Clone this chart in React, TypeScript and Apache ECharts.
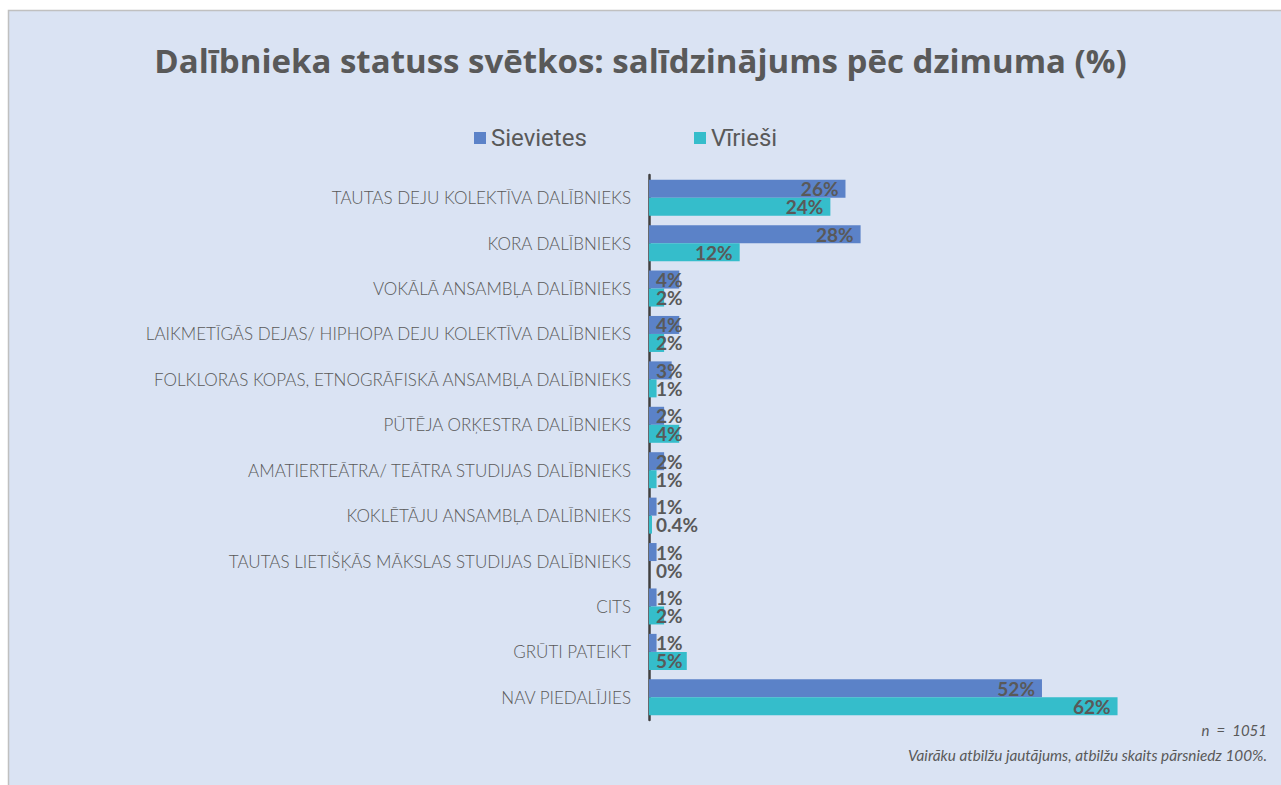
import React, { useEffect, useRef } from "react";
import * as echarts from "echarts";

const categories = [
  "TAUTAS DEJU KOLEKTĪVA DALĪBNIEKS",
  "KORA DALĪBNIEKS",
  "VOKĀLĀ ANSAMBĻA DALĪBNIEKS",
  "LAIKMETĪGĀS DEJAS/ HIPHOPA DEJU KOLEKTĪVA DALĪBNIEKS",
  "FOLKLORAS KOPAS, ETNOGRĀFISKĀ ANSAMBĻA DALĪBNIEKS",
  "PŪTĒJA ORĶESTRA DALĪBNIEKS",
  "AMATIERTEĀTRA/ TEĀTRA STUDIJAS DALĪBNIEKS",
  "KOKLĒTĀJU ANSAMBĻA DALĪBNIEKS",
  "TAUTAS LIETIŠĶĀS MĀKSLAS STUDIJAS DALĪBNIEKS",
  "CITS",
  "GRŪTI PATEIKT",
  "NAV PIEDALĪJIES",
];
const sievietes = [26, 28, 4, 4, 3, 2, 2, 1, 1, 1, 1, 52];
const viriesi = [24, 12, 2, 2, 1, 4, 1, 0.4, 0, 2, 5, 62];

const titleText = "Dalībnieka statuss svētkos: salīdzinājums pēc dzimuma (%)";
const noteN = "n  =  1051";
const noteMulti = "Vairāku atbilžu jautājums, atbilžu skaits pārsniedz 100%.";

const COLORS = { sievietes: "#5b82c8", viriesi: "#35bdcb" };
const TEXT = "#595959";

function makeData(values: number[]) {
  return values.map((v) => ({
    value: v,
    label: { position: v >= 10 ? "insideRight" : "insideLeft" },
  }));
}

export default function App() {
  const ref = useRef<HTMLDivElement>(null);
  useEffect(() => {
    if (!ref.current) return;
    const chart = echarts.init(ref.current, undefined, { renderer: "svg" });
    const labelStyle = {
      show: true,
      formatter: (p: any) => `${p.value}%`,
      color: TEXT,
      fontSize: 19,
      fontWeight: "bold",
      fontFamily: "Lato",
      distance: 7,
    };
    chart.setOption({
      animation: false,
      backgroundColor: "#ffffff",
      graphic: [
        {
          type: "rect",
          z: -10,
          silent: true,
          shape: { x: 8.5, y: 10.5, width: 1300, height: 800 },
          style: { fill: "#dae3f3", stroke: "#c0c0c0", lineWidth: 1.5 },
        },
        {
          type: "text",
          right: 14,
          top: 722,
          style: {
            text: noteN,
            fill: TEXT,
            font: "italic 15px Lato",
            textAlign: "right",
          },
        },
        {
          type: "text",
          right: 14,
          top: 747,
          style: {
            text: noteMulti,
            fill: TEXT,
            font: "italic 15.3px Lato",
            textAlign: "right",
          },
        },
      ],
      title: {
        text: titleText,
        left: "center",
        top: 39,
        textStyle: {
          fontFamily: "Open Sans",
          fontWeight: "bold",
          fontSize: 33,
          color: TEXT,
        },
      },
      legend: [
        {
          data: ["Sievietes"],
          left: 474,
          top: 126,
          padding: 0,
          itemWidth: 12,
          itemHeight: 12,
          icon: "rect",
          textStyle: { fontFamily: "Roboto", fontSize: 24, color: TEXT },
        },
        {
          data: ["Vīrieši"],
          left: 694,
          top: 126,
          padding: 0,
          itemWidth: 12,
          itemHeight: 12,
          icon: "rect",
          textStyle: { fontFamily: "Roboto", fontSize: 24, color: TEXT },
        },
      ],
      grid: { left: 649, right: 103, top: 175, bottom: 65, containLabel: false },
      xAxis: {
        type: "value",
        min: 0,
        max: 70,
        show: false,
        splitLine: { show: false },
      },
      yAxis: {
        type: "category",
        data: categories,
        inverse: true,
        axisLine: { show: true, lineStyle: { color: "#404040", width: 2.5 } },
        axisTick: { show: false },
        axisLabel: {
          color: TEXT,
          fontFamily: "Lato",
          fontWeight: 300,
          fontSize: 17,
          margin: 18,
        },
      },
      series: [
        {
          name: "Sievietes",
          type: "bar",
          data: makeData(sievietes),
          barWidth: 18,
          barGap: "0%",
          itemStyle: { color: COLORS.sievietes },
          label: labelStyle,
        },
        {
          name: "Vīrieši",
          type: "bar",
          data: makeData(viriesi),
          barWidth: 18,
          barGap: "0%",
          itemStyle: { color: COLORS.viriesi },
          label: labelStyle,
        },
      ],
    });
    return () => chart.dispose();
  }, []);
  return (
    <div
      ref={ref}
      style={{ position: "absolute", left: 0, top: 0, width: 1281, height: 785 }}
    />
  );
}
